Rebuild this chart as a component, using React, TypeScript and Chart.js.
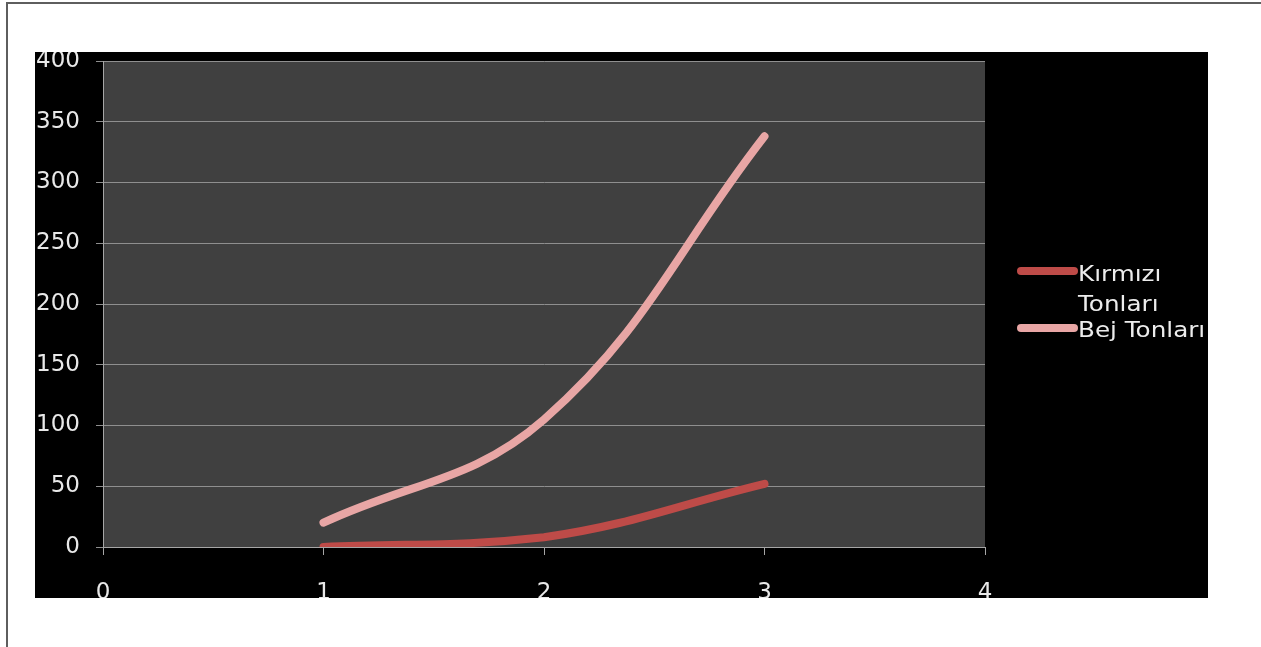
import React, { useEffect, useRef } from "react";
import { Chart, registerables } from "chart.js";

Chart.register(...registerables);

const xValues = [1, 2, 3];
const kirmiziValues = [0, 8, 52];
const bejValues = [20, 105, 338];
const seriesLabels = ["Kırmızı Tonları", "Bej Tonları"];
const legendLines = [["Kırmızı", "Tonları"], ["Bej Tonları"]];
const seriesColors = ["#BE4B48", "#E8A6A5"];

const FONT = "'DejaVu Sans', sans-serif";

const plotBgPlugin = {
  id: "plotBg",
  beforeDraw(chart: any) {
    const { ctx, chartArea } = chart;
    ctx.save();
    ctx.fillStyle = "#404040";
    ctx.fillRect(chartArea.left, chartArea.top, chartArea.right - chartArea.left, chartArea.bottom - chartArea.top);
    ctx.restore();
  },
};

const legendPlugin = {
  id: "customLegend",
  afterDraw(chart: any) {
    const { ctx } = chart;
    ctx.save();
    ctx.lineCap = "round";
    ctx.lineWidth = 8;
    ctx.strokeStyle = seriesColors[0];
    ctx.beginPath();
    ctx.moveTo(986, 219);
    ctx.lineTo(1039, 219);
    ctx.stroke();
    ctx.strokeStyle = seriesColors[1];
    ctx.beginPath();
    ctx.moveTo(986, 276);
    ctx.lineTo(1039, 276);
    ctx.stroke();

    ctx.font = `22px ${FONT}`;
    ctx.fillStyle = "#ececec";
    ctx.textBaseline = "alphabetic";
    ctx.textAlign = "left";
    ctx.translate(1043, 0);
    ctx.scale(1.12, 1);
    ctx.fillText(legendLines[0][0], 0, 229);
    ctx.fillText(legendLines[0][1], 0, 259);
    ctx.fillText(legendLines[1][0], 0, 285);
    ctx.restore();
  },
};

export default function App() {
  const ref = useRef<HTMLCanvasElement>(null);

  useEffect(() => {
    if (!ref.current) return;
    const chart = new Chart(ref.current, {
      type: "line",
      data: {
        datasets: [
          {
            label: seriesLabels[0],
            data: xValues.map((x, i) => ({ x, y: kirmiziValues[i] })),
            borderColor: seriesColors[0],
            backgroundColor: seriesColors[0],
            borderWidth: 8,
            borderCapStyle: "round",
            pointRadius: 0,
            tension: 0.4,
          },
          {
            label: seriesLabels[1],
            data: xValues.map((x, i) => ({ x, y: bejValues[i] })),
            borderColor: seriesColors[1],
            backgroundColor: seriesColors[1],
            borderWidth: 8,
            borderCapStyle: "round",
            pointRadius: 0,
            tension: 0.4,
          },
        ],
      },
      options: {
        animation: false,
        responsive: false,
        maintainAspectRatio: false,
        layout: { padding: { top: 9, right: 223, left: 0, bottom: 0 } },
        plugins: {
          legend: { display: false },
          tooltip: { enabled: false },
        },
        scales: {
          x: {
            type: "linear",
            min: 0,
            max: 4,
            ticks: {
              stepSize: 1,
              color: "#e8e8e8",
              font: { size: 23, family: FONT },
              padding: 24,
              maxRotation: 0,
            },
            grid: {
              display: true,
              drawOnChartArea: false,
              drawTicks: true,
              tickLength: 8,
              color: "#a6a6a6",
            },
            border: { display: true, color: "#a6a6a6", width: 1 },
            afterFit: (scale: any) => {
              scale.height = 51;
              scale.paddingLeft = 0;
              scale.paddingRight = 0;
            },
          },
          y: {
            min: 0,
            max: 400,
            ticks: {
              stepSize: 50,
              color: "#e8e8e8",
              font: { size: 23, family: FONT },
              padding: 16,
            },
            grid: {
              display: true,
              drawOnChartArea: true,
              drawTicks: true,
              tickLength: 7,
              color: "#8f8f8f",
            },
            border: { display: true, color: "#a6a6a6", width: 1 },
            afterFit: (scale: any) => {
              scale.width = 68;
              scale.paddingTop = 0;
              scale.paddingBottom = 0;
            },
          },
        },
      },
      plugins: [plotBgPlugin, legendPlugin],
    });
    return () => chart.destroy();
  }, []);

  return (
    <div style={{ position: "fixed", left: 0, top: 0, width: 1261, height: 647, overflow: "hidden", background: "#fff" }}>
      <div
        style={{
          position: "absolute",
          left: 6,
          top: 2,
          width: 2000,
          height: 2000,
          border: "2px solid #5e5e5e",
          boxSizing: "border-box",
        }}
      />
      <div style={{ position: "absolute", left: 35, top: 52, width: 1173, height: 546, background: "#000", overflow: "hidden" }}>
        <canvas ref={ref} width={1173} height={546} style={{ display: "block", width: 1173, height: 546 }} />
      </div>
    </div>
  );
}
